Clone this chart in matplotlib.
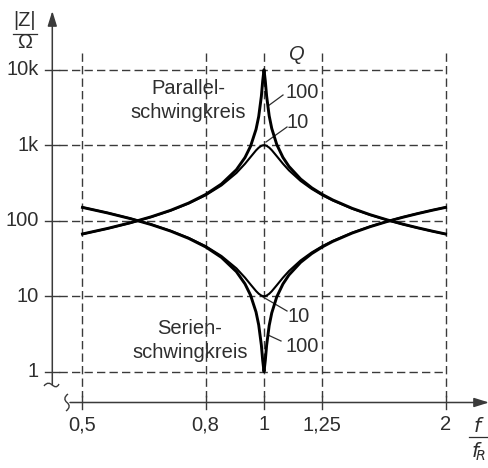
import matplotlib
matplotlib.use('Agg')
import matplotlib.pyplot as plt
from matplotlib.path import Path
from matplotlib.patches import PathPatch

# ---- data ----
x_ticks = [0.5, 0.8, 1.0, 1.25, 2.0]
x_tick_labels = ['0,5', '0,8', '1', '1,25', '2']
y_ticks = [1, 10, 100, 1000, 10000]
y_tick_labels = ['1', '10', '100', '1k', '10k']

f_rel = [0.5, 0.55, 0.6, 0.65, 0.7, 0.75, 0.8, 0.85, 0.9, 0.93, 0.95, 0.97, 0.98,
         0.99, 0.995, 1.0, 1.005, 1.01, 1.02, 1.03, 1.05, 1.075, 1.1, 1.15, 1.2,
         1.25, 1.3, 1.4, 1.5, 1.6, 1.7, 1.8, 1.9, 2.0]

parallel_q10 = [66.5, 78.6, 93.3, 111.9, 136.0, 169.0, 216.9, 292.9, 428.1, 567.0,
                697.9, 854.0, 927.2, 980.4, 995.0, 1000.0, 995.1, 980.8, 929.7, 860.8,
                715.6, 568.4, 464.0, 335.9, 263.1, 216.9, 185.2, 144.3, 119.2, 102.0,
                89.6, 80.1, 72.6, 66.5]
parallel_q100 = [66.7, 78.9, 93.8, 112.6, 137.2, 171.4, 222.2, 306.2, 473.2, 686.8,
                 969.8, 1619.5, 2402.0, 4454.0, 7062.0, 10000.0, 7080.0, 4490.0, 2448.0,
                 1667.6, 1019.1, 689.1, 523.1, 356.4, 272.6, 222.2, 188.4, 145.8, 120.0,
                 102.6, 89.9, 80.4, 72.8, 66.7]
series_q10 = [150.3, 127.2, 107.1, 89.4, 73.5, 59.2, 46.1, 34.1, 23.4, 17.6, 14.3,
              11.71, 10.79, 10.20, 10.05, 10.0, 10.05, 10.20, 10.76, 11.62, 13.97,
              17.59, 21.55, 29.77, 38.01, 46.1, 54.0, 69.3, 83.9, 98.0, 111.6, 124.8,
              137.7, 150.3]
series_q100 = [150.0, 126.8, 106.7, 88.85, 72.86, 58.34, 45.01, 32.66, 21.13, 14.56,
               10.31, 6.17, 4.16, 2.245, 1.416, 1.0, 1.412, 2.227, 4.085, 5.997, 9.813,
               14.51, 19.12, 28.06, 36.68, 45.01, 53.09, 68.58, 83.34, 97.51, 111.2,
               124.4, 137.4, 150.0]

# ---- figure ----
W, H = 489, 468
fig = plt.figure(figsize=(W / 100, H / 100), dpi=100)
ax = fig.add_axes([0, 0, 1, 1])
X0, XD = 264.0, 603.0      # pixel of f/fR = 1, pixels per decade
Y1, YD = 371.7, 75.5       # pixel of |Z| = 1, pixels per decade


def dx(px):
    return 10 ** ((px - X0) / XD)


def dy(py):
    return 10 ** ((Y1 - py) / YD)


ax.set_xscale('log')
ax.set_yscale('log')
ax.set_xlim(dx(0), dx(W))
ax.set_ylim(dy(H), dy(0))
ax.axis('off')

FONT = ['Liberation Sans', 'DejaVu Sans']
TXT = '#2e2e2e'
GRID = '#3a3a3a'
FS = 14.5

# grid
for v in x_ticks:
    ax.plot([v, v], [dy(53), dy(397)], ls=(0, (6, 3)), color=GRID, lw=1.0, zorder=1)
    ax.plot([v, v], [dy(396), dy(409)], color=GRID, lw=1.0, zorder=1)
for v in y_ticks:
    ax.plot([dx(59), dx(446)], [v, v], ls=(0, (6, 3)), color=GRID, lw=1.0, zorder=1)
    ax.plot([dx(45), dx(59)], [v, v], color=GRID, lw=1.0, zorder=1)

# curves
ax.plot(f_rel, parallel_q10, color='black', lw=1.5, zorder=3, solid_joinstyle='round')
ax.plot(f_rel, series_q10, color='black', lw=1.5, zorder=3, solid_joinstyle='round')
ax.plot(f_rel, parallel_q100, color='black', lw=2.1, zorder=3, solid_joinstyle='round')
ax.plot(f_rel, series_q100, color='black', lw=2.1, zorder=3, solid_joinstyle='round')

# axes with arrows (figure pixel coords, origin bottom-left)
arrow = dict(arrowstyle='-|>,head_length=0.9,head_width=0.28', lw=1.1, color=GRID,
             shrinkA=0, shrinkB=0)
ax.annotate('', xy=(52.3, H - 11), xytext=(52.3, H - 385), xycoords='figure pixels',
            textcoords='figure pixels', arrowprops=arrow)
ax.annotate('', xy=(489, H - 402.5), xytext=(70, H - 402.5), xycoords='figure pixels',
            textcoords='figure pixels', arrowprops=arrow)

# axis-break squiggles
tilde = Path([(44, H - 386), (47, H - 382), (50, H - 383), (52.3, H - 385),
              (54.6, H - 387), (57, H - 388), (59, H - 384)],
             [Path.MOVETO] + [Path.CURVE4] * 6)
fig.patches.append(PathPatch(tilde, transform=None, fill=False, lw=1.0, ec=GRID))
brace = Path([(68, H - 394), (64, H - 397), (64, H - 400), (67, H - 402.5),
              (70, H - 405), (70, H - 408), (66, H - 411)],
             [Path.MOVETO] + [Path.CURVE4] * 6)
fig.patches.append(PathPatch(brace, transform=None, fill=False, lw=1.0, ec=GRID))

# tick labels
for v, lab in zip(x_ticks, x_tick_labels):
    ax.text(v, dy(425), lab, ha='center', va='center', fontsize=FS, color=TXT, family=FONT)
for v, lab in zip(y_ticks, y_tick_labels):
    ax.text(dx(38.5), v, lab, ha='right', va='center', fontsize=FS, color=TXT, family=FONT)

# axis titles as fractions
def frac(cx, ytop, ybar, ybot, top, bot, half):
    ax.text(dx(cx), dy(ytop), top, ha='center', va='center', fontsize=FS, color=TXT, family=FONT)
    ax.text(dx(cx), dy(ybot), bot, ha='center', va='center', fontsize=FS, color=TXT, family=FONT)
    ax.plot([dx(cx - half), dx(cx + half)], [dy(ybar), dy(ybar)], color=TXT, lw=0.9)

frac(25, 21, 34.5, 43, '|Z|', 'Ω', 12)
frac(479, 426, 437, 452, '$\\mathit{f}$', '$\\mathit{f}_{\\!R}$', 10)

# labels on curves
ax.text(dx(188), dy(88), 'Parallel-', ha='center', va='center', fontsize=FS, color=TXT, family=FONT)
ax.text(dx(188), dy(112), 'schwingkreis', ha='center', va='center', fontsize=FS, color=TXT, family=FONT)
ax.text(dx(190), dy(328), 'Serien-', ha='center', va='center', fontsize=FS, color=TXT, family=FONT)
ax.text(dx(190), dy(352), 'schwingkreis', ha='center', va='center', fontsize=FS, color=TXT, family=FONT)
ax.text(dx(297), dy(54), 'Q', ha='center', va='center', fontsize=FS, color=TXT, family=FONT,
        style='italic')

ax.text(dx(302), dy(93), '100', ha='center', va='center', fontsize=FS, color=TXT, family=FONT)
ax.text(dx(298), dy(123), '10', ha='center', va='center', fontsize=FS, color=TXT, family=FONT)
ax.text(dx(299), dy(316), '10', ha='center', va='center', fontsize=FS, color=TXT, family=FONT)
ax.text(dx(302), dy(346), '100', ha='center', va='center', fontsize=FS, color=TXT, family=FONT)

# leader lines
for (x1, y1, x2, y2) in [(268, 106, 283, 95), (266, 142, 287, 127),
                         (263, 297, 287, 311), (268, 335, 281, 341)]:
    ax.plot([dx(x1), dx(x2)], [dy(y1), dy(y2)], color=TXT, lw=0.9, zorder=2)

fig.savefig('out.png', dpi=100)
